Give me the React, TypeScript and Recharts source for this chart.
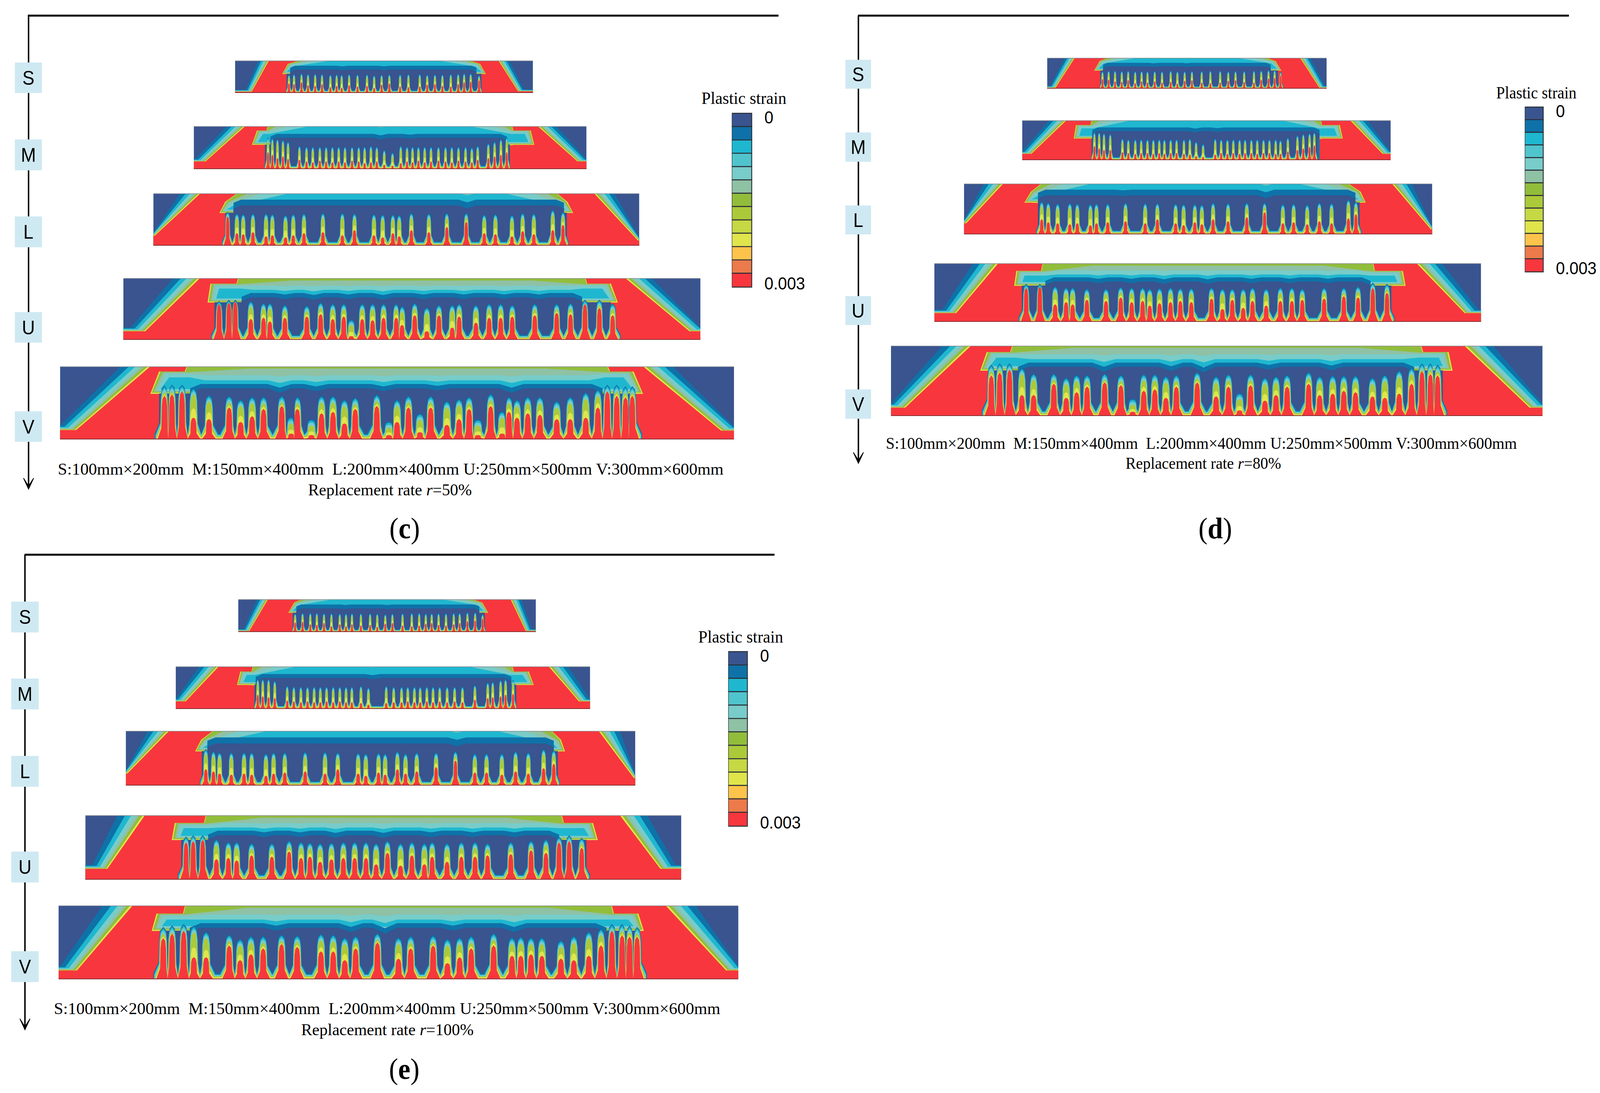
import React from 'react';
import { AreaChart, Area, XAxis, YAxis, BarChart, Bar, ReferenceLine } from 'recharts';

// ---------- values (beam space: x 0..100 along the beam, y 0..100 bottom to top) ----------
type F = number[];
// finger tuples: [x, top of contour, top of red core]
const cSFingers: F[] = [[18.1,54,30],[19.8,56,28],[22.3,58,34],[24.5,56,24],[26.9,57,22],[29.2,56,28],[32,54,18],[34.1,55,22],[35.8,54,16],[38.3,56,24],[41.1,55,20],[44.3,55,22],[46.7,52,16],[49.2,54,26],[51.8,55,30],[55.4,55,20],[58.2,56,18],[62,56,20],[64.5,54,26],[67.1,55,28],[69.6,55,22],[72.4,56,20],[74.9,57,28],[76.9,58,34],[79.1,58,36],[81.9,52,40]];
const cMFingers: F[] = [[18.9,72,40],[20,70,34],[21.3,68,26],[22.7,66,30],[24,62,24],[26.9,52,22],[28.7,50,18],[30.3,50,16],[32.1,50,20],[33.7,50,18],[35.3,50,16],[36.9,50,18],[38.5,50,16],[40.3,50,20],[42,50,18],[43.5,50,14],[45.1,52,16],[46.6,50,18],[48.5,42,10],[50.6,36,8],[52.7,52,14],[54.3,50,18],[55.7,50,16],[57.2,50,20],[58.8,50,16],[60.4,50,18],[62.3,50,20],[64.1,50,18],[65.7,50,16],[67.4,50,20],[69.2,50,18],[70.8,48,16],[72.3,52,22],[75,58,26],[76.6,62,30],[78.2,68,34],[79.7,72,40]];
const cLFingers: F[] = [[15.3,62,56],[17.2,59,24],[18.5,58,22],[20.5,59,26],[23.2,59,18],[24.5,58,20],[27.2,56,16],[28.8,58,20],[31,59,24],[34.9,60,26],[38.9,60,20],[41.4,59,30],[45.4,58,20],[47.2,57,16],[49.3,57,24],[50.6,56,18],[53.1,60,30],[56.7,59,26],[60.4,60,36],[64.4,60,46],[68.1,57,24],[70.4,58,22],[73.8,56,18],[76,60,28],[78.3,59,22],[82.2,66,30],[84.3,62,40]];
const cUFingers: F[] = [[16.6,60,58],[18.3,62,60],[19.4,62,62],[22.1,60,34],[24.3,57,36],[25.4,57,30],[28,54,36],[31.8,53,38],[34.2,58,42],[36.3,56,34],[38.2,56,38],[39.5,30,6],[41.4,56,34],[43.2,56,32],[45.1,56,36],[47.3,56,36],[48.3,52,24],[50.5,57,40],[52.6,50,14],[54.7,54,40],[57,54,20],[58.2,56,38],[61.1,54,28],[63.4,56,36],[65.4,56,36],[67.4,54,38],[71.3,56,40],[75.1,56,44],[77.5,57,42],[80,62,58],[82.5,62,52],[84.8,56,40]];
const cVFingers: F[] = [[15.5,71,60],[16.6,72,62],[18.1,72,66],[19.8,68,30],[22.1,58,28],[25.1,57,44],[26.8,52,24],[28.5,56,32],[30.2,56,42],[32.9,57,46],[34.3,28,8],[35.2,56,42],[37.3,25,6],[38.8,57,36],[40.5,57,38],[42.2,52,22],[43.8,55,42],[47,59,46],[48.8,22,6],[50,52,24],[51.7,57,44],[53.4,33,10],[55,57,44],[57.4,50,20],[59.2,53,28],[60.7,56,42],[62,25,6],[63.9,60,46],[65.6,36,8],[66.6,56,38],[67.8,52,30],[69.4,56,36],[71.2,56,34],[73.7,50,28],[75.7,56,28],[78,62,30],[79.8,66,44],[81.2,72,66],[82.6,72,60],[83.9,70,58],[84.9,70,60]];

const dSFingers: F[] = [[19.8,54,32],[22,56,30],[24.3,56,24],[26.7,55,22],[29,56,28],[31.5,54,18],[33.8,55,24],[35.9,54,20],[38.5,55,24],[41.1,54,20],[44.2,56,22],[46.6,54,16],[49.2,54,26],[51.8,55,28],[55.3,55,20],[58.4,56,18],[61.9,56,20],[64.8,54,26],[67.4,55,28],[70.5,55,22],[74,56,20],[76.6,57,30],[79.2,58,34],[81.4,58,36],[83.5,52,44]];
const dMFingers: F[] = [[19.6,68,36],[20.9,68,30],[22.2,66,26],[23.9,64,26],[27.2,52,20],[28.8,50,18],[30.7,50,16],[32.3,50,18],[34,50,18],[35.6,50,16],[37.2,50,18],[38.6,50,16],[40.3,50,18],[41.9,50,18],[43.9,50,16],[45.5,52,14],[47.2,44,10],[49.1,38,8],[52.4,52,14],[54,50,18],[55.7,50,16],[57.3,50,18],[59,50,16],[60.5,50,18],[62.2,50,18],[63.8,50,16],[65.5,50,18],[67.1,50,18],[68.8,50,16],[70.1,48,16],[72.1,54,22],[74.7,60,26],[76.3,64,30],[78,66,34],[79.3,68,38]];
const dLFingers: F[] = [[16.6,62,30],[18,60,24],[20,58,22],[22.6,59,20],[24.2,58,22],[27,57,18],[28.3,58,22],[30.7,58,24],[34.5,60,26],[38.7,59,22],[41.3,59,30],[45.2,58,22],[46.9,57,18],[49.3,57,24],[50.8,56,20],[53.2,60,30],[56.4,59,26],[60.4,60,34],[64.2,60,44],[68.1,57,22],[70.4,58,24],[73.3,56,20],[75.9,60,26],[78.5,59,22],[82.1,66,32],[83.7,62,40]];
const dUFingers: F[] = [[16.8,62,58],[19.3,62,60],[22.1,58,30],[24.1,56,34],[25.3,56,30],[27.9,54,38],[31.4,54,36],[34.1,57,42],[36.1,56,34],[38.1,56,36],[39.4,54,28],[41.2,55,32],[43.2,56,34],[45,55,36],[47,55,34],[50.7,56,40],[52.7,54,22],[54.5,54,38],[56.5,54,24],[58.2,56,36],[60.7,54,28],[63.3,56,36],[65.4,56,36],[67.3,54,38],[71.3,56,40],[74.9,56,44],[77.5,58,42],[80.2,64,58],[82.8,62,50]];
const dVFingers: F[] = [[15.4,70,58],[16.7,72,62],[18.2,72,66],[20.1,66,30],[21.9,58,30],[25,58,46],[26.9,52,26],[28.5,56,34],[30.1,56,42],[32.8,58,48],[35.3,56,44],[37.1,22,6],[38.8,57,36],[40.5,57,38],[42.2,54,26],[43.8,56,42],[47,60,48],[49.9,54,28],[51.8,57,42],[53.5,30,8],[55.2,57,44],[57.4,52,22],[59.1,54,30],[60.8,56,42],[64.1,60,46],[65.8,54,30],[67.8,55,32],[69.5,55,36],[71.3,55,34],[73.9,52,28],[75.8,56,26],[78,62,32],[79.9,66,46],[81.5,72,64],[82.8,72,60],[83.9,70,58]];

const eSFingers: F[] = [[19.1,54,30],[21.6,56,32],[24.2,56,24],[26.4,56,22],[28.8,55,28],[31.3,55,18],[34.1,54,24],[36.2,54,18],[38.2,55,24],[41.2,55,20],[44.3,55,22],[46.7,54,16],[49.4,52,26],[51.8,54,28],[55.2,55,20],[58.3,56,18],[60.8,56,20],[63,54,26],[65,55,28],[67.3,55,22],[69.8,55,20],[72.4,56,24],[74.4,56,28],[77,58,34],[79.6,58,36],[82.1,52,42]];
const eMFingers: F[] = [[19.8,68,34],[21,68,30],[22.4,68,28],[23.9,64,26],[26.9,52,20],[28.5,50,18],[30.2,50,16],[31.8,50,18],[33.4,50,16],[34.9,50,16],[36.4,50,18],[38,50,16],[39.6,50,18],[41.1,50,16],[42.5,50,16],[44.7,52,14],[46.5,48,10],[50.8,52,14],[52.6,50,16],[54.5,50,16],[56,50,18],[57.6,50,16],[59,50,16],[60.6,50,18],[62.1,50,16],[63.7,50,18],[65.5,50,16],[67.3,50,18],[69.2,50,16],[72.2,54,22],[75.3,60,26],[76.5,62,28],[78.4,66,30],[79.6,68,34],[81.4,66,36]];
const eLFingers: F[] = [[15.7,64,30],[17.2,60,26],[18.4,58,22],[20.7,58,20],[23.2,58,22],[24.7,58,20],[27.5,56,18],[29,58,22],[31.2,58,24],[35.2,59,26],[39.1,59,22],[41.6,58,30],[45.6,57,22],[47.1,56,18],[49.6,57,24],[50.9,56,20],[53.3,60,30],[54.9,56,22],[57.1,58,26],[60.9,58,34],[64.7,60,46],[68.5,56,24],[70.8,56,24],[73.8,56,20],[76.5,60,26],[79,58,22],[82,64,32],[84,62,40]];
const eUFingers: F[] = [[16.9,64,58],[18.1,66,60],[19.7,66,62],[22,60,32],[24,56,34],[25.4,56,30],[27.9,54,38],[31.3,54,36],[34.2,58,44],[36.2,56,34],[37.7,55,36],[39.4,54,28],[41.3,55,32],[43.3,56,34],[45.2,56,34],[47.1,56,34],[48.8,54,24],[50.7,58,42],[52.9,54,22],[54.8,56,38],[56.9,54,24],[58.2,56,36],[60.7,54,28],[63.1,56,36],[65.4,56,36],[67.5,54,38],[71.4,56,40],[74.8,58,46],[77.3,60,42],[79.5,64,58],[81.2,66,60],[83.3,62,50]];
const eVFingers: F[] = [[15.4,68,56],[16.7,70,62],[18.4,72,66],[19.9,70,30],[21.7,62,30],[25.1,58,46],[26.7,52,26],[28.3,56,34],[30.1,56,42],[32.8,58,48],[35.1,57,44],[38.6,59,38],[40.4,58,38],[42.1,54,26],[43.7,56,42],[46.9,60,50],[50,54,28],[51.8,56,42],[55.1,57,46],[57.2,52,22],[59,54,30],[60.7,56,42],[64,60,46],[66.7,54,32],[68,55,32],[69.5,54,34],[71.1,54,32],[73.9,50,28],[75.8,56,26],[78,62,32],[79.8,66,46],[81.4,72,66],[82.9,72,60],[84,70,58],[85.1,68,58]];

// red zone outline: [foot height left, x of left foot, x of left top, x of right top, x of right foot, foot height right]
const cSEdge = [4,5.6,11.4,88.4,95,5], cMEdge = [18,3,13.1,87.6,97.7,18], cLEdge = [19,0.3,9.7,90.7,99.7,10], cUEdge = [14,3.8,13.3,87,98.1,14], cVEdge = [13,2.4,13.4,86.5,98.1,12];
const dSEdge = [3,3,9.9,90.5,97.4,3], dMEdge = [16,2.5,12,89,97.8,16], dLEdge = [22,0.5,8.4,91.4,99.7,10], dUEdge = [15,4,11.7,88.2,97,15], dVEdge = [12,2.2,12.3,88,98,12];
const eSEdge = [3,3.7,10,91.5,96.6,3], eMEdge = [18,2.4,10.4,90,97.3,18], eLEdge = [22,0.3,8.5,92.8,99.7,14], eUEdge = [17,3.7,10,89.7,96.5,17], eVEdge = [12,2.7,10.9,89.3,98.2,12];
// width of the contour fringe outside the red zone
const spreads = [3.6, 4.7, 4.2, 4.6, 4.4];
// core flare: [lower edge, step height, x outer, x step, x top, x top right, x step right, x outer right]
const cSCore = [60,90,16,18,21.6,78.7,82,84], cMCore = [58,90,15,16.3,18.9,81,85.6,86.5], cLCore = [64,84,13.8,15,17.3,83,85,86.2], cUCore = [62,91,14.8,15.3,20,80,84.3,85.5], cVCore = [64,93,13.6,14.9,18.9,81.2,84.9,86.3];
const dSCore = [60,90,17,19,21.7,78.3,81.5,83.6], dMCore = [56,88,14.2,14.8,18.9,81,86,86.8], dLCore = [64,84,13.1,14.5,16.6,82,84.5,85.6], dUCore = [63,87,14.8,15.2,19.9,80.2,85.5,86], dVCore = [66,91,13.9,14.9,18.7,81.3,85.4,86];
const eSCore = [60,90,17,19,21.3,78.7,81.8,83.8], eMCore = [58,88,15,15.8,18.7,81.2,85,86.2], eLCore = [64,84,13.8,15,17.2,83.5,85.2,86], eUCore = [63,88,14.7,15.2,20.3,79.9,85,85.8], eVCore = [67,89,13.9,14.6,18.7,81.3,85.1,85.9];
// inner field limits [left, right]
const cSInner = [18.5,81], cMInner = [19.5,79.7], cLInner = [16.5,84.5], cUInner = [20.5,79.5], cVInner = [19.3,80.5];
const dSInner = [20,80], dMInner = [19,80.7], dLInner = [15.8,83.6], dUInner = [20.3,79.8], dVInner = [19.5,80.3];
const eSInner = [19.5,81], eMInner = [19.3,81], eLInner = [16,84], eUInner = [20.6,79.5], eVInner = [19.3,80.6];
// centre heights of the bands: [green, sage, teal, cyan, mid blue, dark blue]
const smallLevels = [100,100,100,100,84,72];
const midLevels = [100,100,100,100,82,73];
const largeLevels = [100,100,100,100,88,77];
const uLevels = [100,96,88,81,76,69];
const vLevels = [100,97,88,81,76,70];
// notches in the blue band: [x, depth]
const cSDips = [[36,2],[50,2]], cMDips = [[47.6,4],[55,2]], cLDips = [[64.6,6]], cUDips = [[28,3],[33,4],[39,3],[45,4],[52,3],[59,3],[66,3],[72,3]], cVDips = [[32.6,6],[38,4],[48,4],[56,3],[67,6]];
const dSDips = [[38,2],[50,2]], dMDips = [[47,3],[53,2]], dLDips = [[34,1.5],[64.5,6]], dUDips = [[30,3],[36,3],[42,4],[50,4],[58,3],[65,3],[72,3]], dVDips = [[32.7,7],[43,6],[48,8],[58,4],[67.6,5]];
const eSDips = [[36,2],[50,2]], eMDips = [[47.5,3]], eLDips = [[65,5]], eUDips = [[30,3],[36,3],[42,4],[50,4],[58,3],[65,3],[72,3]], eVDips = [[32,4],[43,6],[48,8],[58,4],[67,6]];
// colour bar
const legendBands = [0.00023,0.00023,0.00023,0.00023,0.00023,0.00023,0.00023,0.00023,0.00023,0.00023,0.00023,0.00023,0.00024];
const legendColors = ['#39548f','#0e72a8','#1fb7d0','#50c4cd','#78ccc9','#8fc1a5','#92bd3b','#acc93a','#c6d843','#e0e54c','#fdc34b','#ec7a4a','#f7373d'];
const legendTicks = [0, 0.003];
const rowLabels = ['S','M','L','U','V'];
const dimsCaption = 'S:100mm×200mm  M:150mm×400mm  L:200mm×400mm U:250mm×500mm V:300mm×600mm';

// ---------- colours ----------
const K = { dark:'#39548f', med:'#0e72a8', cyan:'#1fb7d0', aqua:'#50c4cd', teal:'#78ccc9', sage:'#8fc1a5', green:'#92bd3b', lime:'#acc93a', olive:'#c6d843', yellow:'#e0e54c', amber:'#fdc34b', red:'#f7373d' };

// ---------- table builders ----------
type P = { x: number; y: number | number[] };
const clamp = (v: number, a: number, b: number) => Math.max(a, Math.min(b, v));

function fringe(e: number[], spread: number, f: number): P[] {
  const [fl, xl, tl, tr, xr, fr] = e;
  return [
    { x: 0, y: fl + 6 * f },
    { x: clamp(xl - spread * 0.55 * f, 0.01, 100), y: fl + 6 * f },
    { x: tl - spread * f, y: 100 },
    { x: tr + spread * f, y: 100 },
    { x: clamp(xr + spread * 0.55 * f, 0, 99.99), y: fr + 6 * f },
    { x: 100, y: fr + 6 * f },
  ];
}

function topProfile(xa: number, xb: number, level: number, dips: number[][], w: number): P[] {
  const out: P[] = [{ x: xa, y: level }];
  dips.forEach(([x, d]) => {
    out.push({ x: x - 1.8, y: level }, { x, y: level - d * w }, { x: x + 1.8, y: level });
  });
  out.push({ x: xb, y: level });
  return out;
}

function flare(c: number[], level: number, ins: number, reach: number, drop: number, dips: number[][], w: number, raise: number, step: boolean): P[] {
  const [lo0, sy, xo, xs, xt, xtr, xsr, xor] = c;
  const lo = lo0 + raise;
  const top = topProfile(xt + ins * 0.5 + reach, xtr - ins * 0.5 - reach, level, dips, w)
    .map((p) => ({ x: p.x, y: [lo - 1, p.y as number] }));
  const left: P[] = step ? [{ x: xt + ins * 0.5 - 0.3, y: [lo, sy - drop] }] : [];
  const right: P[] = step ? [{ x: xtr - ins * 0.5 + 0.3, y: [lo, sy - drop] }] : [];
  return [
    { x: xo + ins, y: [lo, lo] },
    { x: xs + ins, y: [lo, sy - drop] },
    ...left,
    ...top,
    ...right,
    { x: xsr - ins, y: [lo, sy - drop] },
    { x: xor - ins, y: [lo, lo] },
  ];
}

function inner(c: number[], inn: number[], level: number, dips: number[][], w: number, low: number[] | null): P[] {
  const lo = c[0];
  const [a, b] = inn;
  const start: P[] = low ? [{ x: low[0], y: 0 }, { x: low[0], y: lo - 1 }, { x: a, y: lo - 1 }] : [{ x: a, y: 0 }];
  const end: P[] = low ? [{ x: b, y: lo - 1 }, { x: low[1], y: lo - 1 }, { x: low[1], y: 0 }] : [{ x: b, y: 0 }];
  return [...start, { x: a, y: level - 6 }, ...topProfile(a + 1.6, b - 1.6, level, dips, w), { x: b, y: level - 6 }, ...end];
}

const fingerBands = [
  { color: K.med, k: 1.45, valley: 8, peak: (t: number, r: number) => t + 3 },
  { color: K.cyan, k: 1.35, valley: 6.5, peak: (t: number, r: number) => t + 1 },
  { color: K.teal, k: 1.28, valley: 5.5, peak: (t: number, r: number) => t - 2 },
  { color: K.lime, k: 1.2, valley: 4, peak: (t: number, r: number) => Math.max(r, t - 6) },
  { color: K.yellow, k: 1.1, valley: 2.5, peak: (t: number, r: number) => r + (t - 6 - r) * 0.4 },
  { color: K.red, k: 1.0, valley: 1, peak: (t: number, r: number) => r },
];

function fingerLayer(fs: F[], hw: number, band: typeof fingerBands[number]): P[] {
  const out: P[] = [];
  fs.forEach((f, i) => {
    const [x, t, r] = f;
    const gl = (i ? x - fs[i - 1][0] : 4) / 2;
    const gr = (i < fs.length - 1 ? fs[i + 1][0] - x : 4) / 2;
    const w = hw * band.k;
    const v = band.valley;
    const pk = Math.max(v, Math.min(100, band.peak(t, r)));
    const d = pk - v;
    out.push(
      { x: x - Math.min(w, gl), y: v },
      { x: x - Math.min(w * 0.46, gl * 0.92), y: v + d * 0.25 },
      { x: x - Math.min(w * 0.4, gl * 0.85), y: v + d * 0.75 },
      { x: x - Math.min(w * 0.28, gl * 0.6), y: v + d * 0.93 },
      { x, y: pk },
      { x: x + Math.min(w * 0.28, gr * 0.6), y: v + d * 0.93 },
      { x: x + Math.min(w * 0.4, gr * 0.85), y: v + d * 0.75 },
      { x: x + Math.min(w * 0.46, gr * 0.92), y: v + d * 0.25 },
      { x: x + Math.min(w, gr), y: v },
    );
  });
  return out;
}

// ---------- one beam: a small AreaChart painted back to front ----------
type Spec = { edge: number[]; spread: number; core: number[]; inn: number[]; levels: number[]; reach: number[]; dips: number[][]; fingers: F[]; hw: number; step: boolean };

function Beam({ box, s }: { box: number[]; s: Spec }) {
  const [left, top, width, height] = box;
  const layers: { color: string; data: P[] }[] = [];
  layers.push({ color: K.dark, data: [{ x: 0, y: 100 }, { x: 100, y: 100 }] });
  [[K.med, 1], [K.cyan, 0.72], [K.teal, 0.5], [K.sage, 0.32], [K.green, 0.2], [K.yellow, 0.08]].forEach(([c, f]) =>
    layers.push({ color: c as string, data: fringe(s.edge, s.spread, f as number) }));
  layers.push({ color: K.red, data: fringe(s.edge, s.spread, 0) });
  const [lg, ls, lt, lc, lm, ld] = s.levels;
  layers.push({ color: K.yellow, data: flare(s.core, lg, -0.2, s.reach[0], 0, [], 0, -1.5, s.step) });
  layers.push({ color: K.green, data: flare(s.core, lg, 0, s.reach[0], 0, [], 0, 0, s.step) });
  layers.push({ color: K.sage, data: flare(s.core, ls, 0.35, s.reach[1], 1, [], 0.2, 1.5, s.step) });
  layers.push({ color: K.teal, data: flare(s.core, lt, 0.7, s.reach[2], 3, s.dips, 0.3, 3, s.step) });
  layers.push({ color: K.cyan, data: flare(s.core, lc, 1.3, s.reach[3], 8, s.dips, 0.6, 5, s.step) });
  layers.push({ color: K.med, data: inner(s.core, s.inn, lm, s.dips, 0.85, null) });
  const first = s.fingers[0][0];
  const last = s.fingers[s.fingers.length - 1][0];
  layers.push({ color: K.dark, data: inner(s.core, s.inn, ld, s.dips, 1, [Math.max(s.core[2] + 1, first - 0.8), Math.min(s.core[7] - 1, last + 0.8)]) });
  fingerBands.forEach((b) => layers.push({ color: b.color, data: fingerLayer(s.fingers, s.hw, b) }));
  return (
    <div style={{ position: 'absolute', left, top, width, height }}>
      <AreaChart width={width} height={height} margin={{ top: 0, right: 0, bottom: 0, left: 0 }}>
        <XAxis type="number" dataKey="x" domain={[0, 100]} hide allowDataOverflow />
        <YAxis type="number" domain={[0, 100]} hide width={0} allowDataOverflow />
        {layers.map((l, i) => (
          <Area key={i} data={l.data} dataKey="y" type="linear" fill={l.color} fillOpacity={1} stroke="none" dot={false} activeDot={false} isAnimationActive={false} />
        ))}
        <ReferenceLine y={100} stroke="#8c9096" strokeWidth={3} />
        <ReferenceLine y={0} stroke="#8a3035" strokeWidth={4} />
      </AreaChart>
    </div>
  );
}

function LegendTick(props: any) {
  const { x, y, payload, index } = props;
  const v = payload.value;
  return (
    <text x={x + props.gapX} y={y + (index === 0 ? 26 : 6)} fontFamily="Liberation Sans" fontSize={45} fill="#000">
      {v === 0 ? '0' : '0.003'}
    </text>
  );
}

function ColorBar({ box, gapX }: { box: number[]; gapX: number }) {
  const [left, top, w, h] = box;
  const pad = 30;
  const row: Record<string, any> = { name: 'strain' };
  legendBands.forEach((v, i) => { row['b' + i] = v; });
  return (
    <div style={{ position: 'absolute', left, top: top - pad, width: w + 170, height: h + 2 * pad }}>
      <BarChart width={w + 170} height={h + 2 * pad} data={[row]} margin={{ top: pad, right: 0, bottom: pad, left: 0 }} barCategoryGap={0}>
        <XAxis dataKey="name" hide />
        <YAxis type="number" orientation="right" reversed domain={[0, 0.003]} ticks={legendTicks} width={170} axisLine={false} tickLine={false} interval={0}
          tick={(p: any) => <LegendTick {...p} gapX={gapX} />} />
        {legendBands.map((_, i) => (
          <Bar key={i} dataKey={'b' + i} stackId="s" fill={legendColors[i]} stroke="#2b2f36" strokeWidth={2.5} isAnimationActive={false} />
        ))}
      </BarChart>
    </div>
  );
}

// ---------- layout (pixels on the page) ----------
const reachSmall = [0, 2, 5, 10];
const reachBig = [0, 9, 3, 2];
const panels = [
  {
    boxes: [[650,155,824,83],[536,323,1086,110],[424,495,1344,134],[341,712,1596,158],[166,938,1864,187]],
    edges: [cSEdge,cMEdge,cLEdge,cUEdge,cVEdge], cores: [cSCore,cMCore,cLCore,cUCore,cVCore], inners: [cSInner,cMInner,cLInner,cUInner,cVInner],
    dips: [cSDips,cMDips,cLDips,cUDips,cVDips], fingers: [cSFingers,cMFingers,cLFingers,cUFingers,cVFingers],
    line: [77,2153,40], axis: [79,1252], tag: [41,75], tagY: [[160,78],[357,79],[554,79],[799,78],[1053,78]],
    bar: [2024,290,55,445], gapX: 27, title: [1940,235,266], cap: [160,1841,1215], rep: [852,453,1268,'50%'], panel: [1119,1378,'c'],
  },
  {
    boxes: [[2896,148,773,79],[2827,308,1019,102],[2666,470,1295,130],[2584,674,1512,150],[2464,885,1802,180]],
    edges: [dSEdge,dMEdge,dLEdge,dUEdge,dVEdge], cores: [dSCore,dMCore,dLCore,dUCore,dVCore], inners: [dSInner,dMInner,dLInner,dUInner,dVInner],
    dips: [dSDips,dMDips,dLDips,dUDips,dVDips], fingers: [dSFingers,dMFingers,dLFingers,dUFingers,dVFingers],
    line: [2373,4339,40], axis: [2374,1186], tag: [2338,71], tagY: [[153,74],[339,75],[526,74],[758,74],[997,75]],
    bar: [4217,274,51,422], gapX: 27, title: [4138,222,252], cap: [2450,1745,1149], rep: [3113,430,1200,'80%'], panel: [3361,1378,'d'],
  },
  {
    boxes: [[659,1534,823,84],[486,1706,1146,109],[348,1871,1409,140],[236,2087,1648,165],[162,2318,1880,189]],
    edges: [eSEdge,eMEdge,eLEdge,eUEdge,eVEdge], cores: [eSCore,eMCore,eLCore,eUCore,eVCore], inners: [eSInner,eMInner,eLInner,eUInner,eVInner],
    dips: [eSDips,eMDips,eLDips,eUDips,eVDips], fingers: [eSFingers,eMFingers,eLFingers,eUFingers,eVFingers],
    line: [68,2142,1420], axis: [69,2636], tag: [31,76], tagY: [[1540,79],[1737,79],[1935,79],[2180,79],[2435,79]],
    bar: [2014,1668,53,447], gapX: 27, title: [1931,235,1645], cap: [149,1843,2596], rep: [833,477,2650,'100%'], panel: [1118,2762,'e'],
  },
];
const levelSets = [smallLevels, midLevels, largeLevels, uLevels, vLevels];
const reachSets = [reachSmall, reachSmall, reachSmall, reachBig, reachBig];
const stepSets = [false, true, false, true, true];
const halfWidths = [0.7, 0.6, 0.8, 0.95, 1.0];

function Annotations() {
  return (
    <svg width={4425} height={2798} style={{ position: 'absolute', left: 0, top: 0 }}>
      {panels.map((p: any, i) => {
        const [x1, x2, y] = p.line;
        const [ax, tip] = p.axis;
        return (
          <g key={i}>
            <line x1={x1} x2={x2} y1={y} y2={y} stroke="#000" strokeWidth={5} />
            <line x1={ax} x2={ax} y1={y} y2={tip - 10} stroke="#000" strokeWidth={4} />
            <path d={`M${ax - 14} ${tip - 28} L${ax} ${tip - 8} L${ax + 14} ${tip - 28} L${ax} ${tip} Z`} fill="#000" stroke="#000" strokeWidth={2} />
            {rowLabels.map((t, j) => (
              <g key={t}>
                <rect x={p.tag[0]} y={p.tagY[j][0]} width={p.tag[1]} height={p.tagY[j][1]} fill="#cfe9f2" />
                <text x={p.tag[0] + p.tag[1] / 2} y={p.tagY[j][0] + p.tagY[j][1] / 2 + 18} textAnchor="middle" fontFamily="Liberation Sans" fontSize={50} fill="#000">{t}</text>
              </g>
            ))}
            <text x={p.title[0]} y={p.title[2]} textLength={p.title[1]} lengthAdjust="spacingAndGlyphs" fontFamily="Liberation Serif" fontSize={44} fill="#000">Plastic strain</text>
            <text x={p.cap[0]} y={p.cap[2]} textLength={p.cap[1]} lengthAdjust="spacingAndGlyphs" fontFamily="Liberation Serif" fontSize={42} fill="#000" xmlSpace="preserve">{dimsCaption}</text>
            <text x={p.rep[0]} y={p.rep[2]} textLength={p.rep[1]} lengthAdjust="spacingAndGlyphs" fontFamily="Liberation Serif" fontSize={42} fill="#000">Replacement rate <tspan fontStyle="italic">r</tspan>={p.rep[3]}</text>
            <text x={p.panel[0]} y={p.panel[1]} textAnchor="middle" fontFamily="Liberation Serif" fontSize={76} fill="#000">(<tspan fontWeight="bold">{p.panel[2]}</tspan>)</text>
          </g>
        );
      })}
    </svg>
  );
}

// The browser window can be narrower than the reference, so the whole page is fitted to it.
const fit = Math.min(1, window.innerWidth / 4425);

export default function App() {
  return (
    <div style={{ position: 'absolute', left: 0, top: 0, width: 4425, height: 2798, background: '#fff', overflow: 'hidden', transform: `scaleX(${fit})`, transformOrigin: '0 0' }}>
      <Annotations />
      {panels.map((p: any, i) => (
        <React.Fragment key={i}>
          {p.boxes.map((b: number[], j: number) => (
            <Beam key={j} box={b} s={{ edge: p.edges[j], spread: spreads[j], core: p.cores[j], inn: p.inners[j], levels: levelSets[j], reach: reachSets[j], dips: p.dips[j], fingers: p.fingers[j], hw: halfWidths[j], step: stepSets[j] }} />
          ))}
          <ColorBar box={p.bar} gapX={p.gapX} />
        </React.Fragment>
      ))}
    </div>
  );
}
